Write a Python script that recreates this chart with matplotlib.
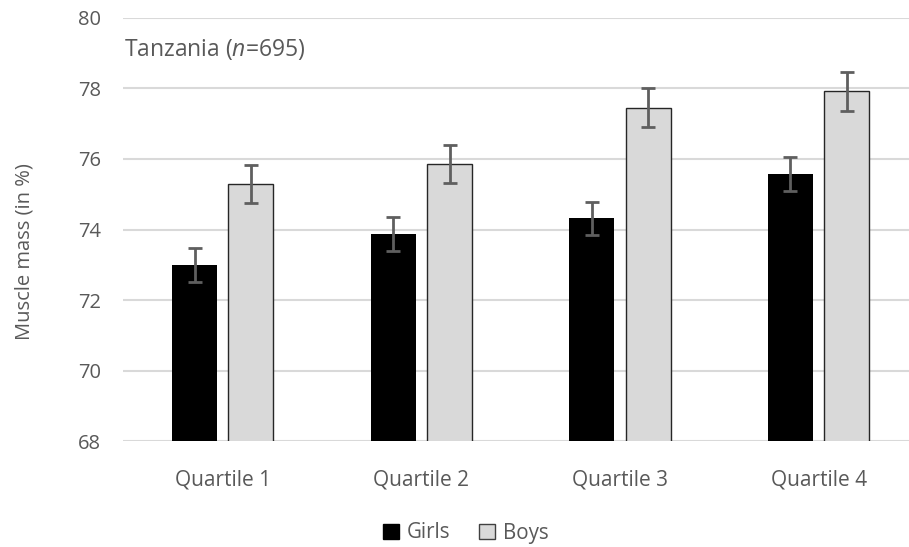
import matplotlib
matplotlib.use("Agg")
import matplotlib.pyplot as plt
import numpy as np
from matplotlib.patches import Patch

categories = ["Quartile 1", "Quartile 2", "Quartile 3", "Quartile 4"]
girls = [72.99, 73.87, 74.32, 75.57]
girls_err = [0.48, 0.47, 0.47, 0.47]
boys = [75.29, 75.85, 77.45, 77.92]
boys_err = [0.54, 0.54, 0.55, 0.55]
yticks = [68, 70, 72, 74, 76, 78, 80]

plt.rcParams['font.family'] = ['Open Sans', 'DejaVu Sans']
plt.rcParams['mathtext.fontset'] = 'custom'
plt.rcParams['mathtext.rm'] = 'Open Sans'
plt.rcParams['mathtext.it'] = 'Open Sans:italic'

W, H = 909, 547
fig = plt.figure(figsize=(W/100, H/100), dpi=100)
left, right = 123.4, 918.0
top, bottom = 17.7, 441.3
ax = fig.add_axes([left/W, 1-bottom/H, (right-left)/W, (bottom-top)/H])

x = np.arange(len(categories))
bw = 0.2266
off = 0.142
txtc = '#595959'
ekw = dict(ecolor='#5f5f5f', elinewidth=2, capsize=5, capthick=2)
ax.bar(x-off, girls, bw, color='black', yerr=girls_err, error_kw=ekw, zorder=3, label='Girls')
ax.bar(x+off, boys, bw, color='#d9d9d9', edgecolor='#262626', linewidth=1, yerr=boys_err, error_kw=ekw, zorder=3, label='Boys')

ax.set_xlim(-0.5, len(categories)-0.5)
ax.set_ylim(68, 80)
ax.set_yticks(yticks)
ax.set_yticklabels([str(t) for t in yticks])
ax.set_xticks(x)
ax.set_xticklabels(categories)
ax.grid(axis='y', color='#d9d9d9', linewidth=1.5, zorder=0)
ax.set_axisbelow(True)
for s in ax.spines.values():
    s.set_visible(False)
ax.tick_params(axis='both', length=0, colors=txtc)
ax.tick_params(axis='y', pad=16, labelsize=14.5)
ax.tick_params(axis='x', pad=20, labelsize=15)

fig.text(25/W, 1-252/H, "Muscle mass (in %)", rotation=90, ha='center', va='center', color=txtc, fontsize=14.5)
fig.text(124/W, 1-49/H, r"Tanzania ($\it{n}$=695)", ha='left', va='center', color=txtc, fontsize=16.5)

handles = [Patch(facecolor='black', edgecolor='black'), Patch(facecolor='#d9d9d9', edgecolor='#404040')]
leg = fig.legend(handles, ['Girls', 'Boys'], loc='center', bbox_to_anchor=(466/W, 1-533/H), ncol=2, frameon=False,
                 fontsize=14.8, handlelength=0.75, handleheight=0.75, handletextpad=0.4, columnspacing=1.4)
for t in leg.get_texts():
    t.set_color(txtc)

fig.savefig("out.png", dpi=100)
